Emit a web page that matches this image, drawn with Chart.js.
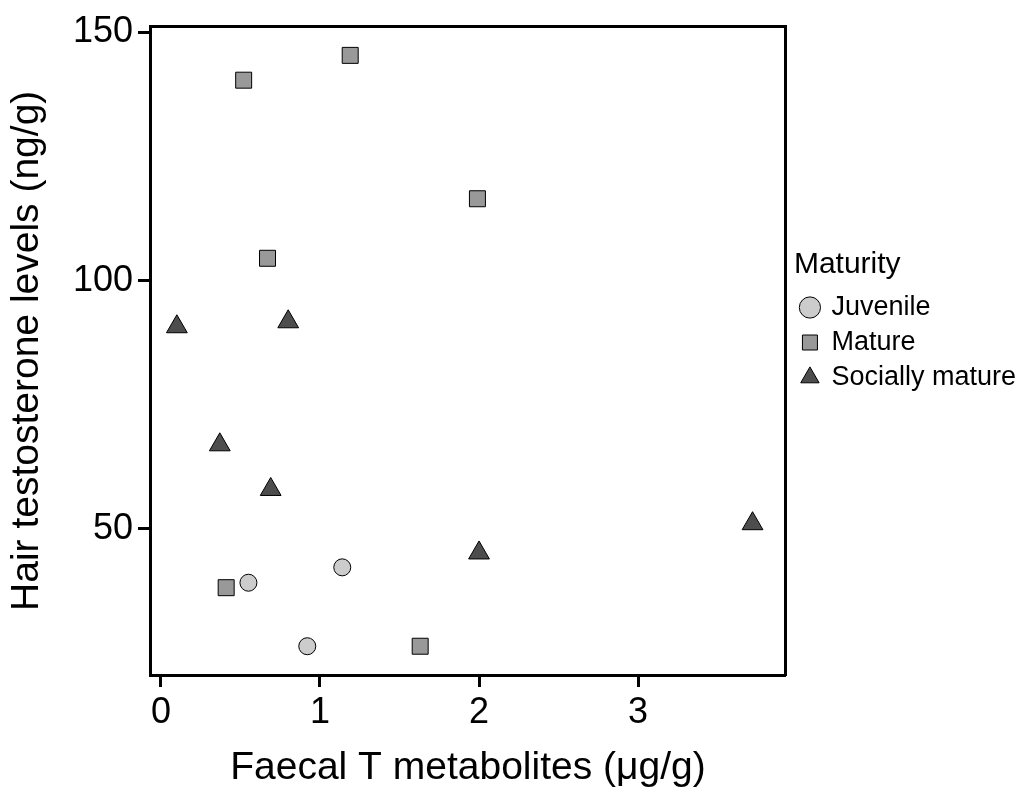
<!DOCTYPE html>
<html>
<head>
<meta charset="utf-8">
<script src="https://cdn.jsdelivr.net/npm/chart.js@4"></script>
<style>
  body { margin: 0; background: #fff; }
  #wrap { width: 1026px; height: 794px; }
</style>
</head>
<body>
<div id="wrap"><canvas id="chart" width="1026" height="794"></canvas></div>
<script>
// Faecal T metabolites vs hair testosterone, by maturity class
const juvenileX = [0.55, 1.14, 0.92];
const juvenileY = [39.1, 42.2, 26.3];
const matureX = [0.41, 0.52, 1.19, 1.99, 0.67, 1.63];
const matureY = [38.1, 140.4, 145.4, 116.5, 104.5, 26.3];
const socialX = [0.10, 0.80, 0.37, 0.69, 2.00, 3.72];
const socialY = [90.7, 91.7, 66.9, 57.9, 45.1, 51.0];
const xTicks = [0, 1, 2, 3];
const yTicks = [50, 100, 150];

Chart.defaults.font.family = 'Liberation Sans, Arial, Helvetica, sans-serif';
Chart.defaults.color = '#000';

function pts(xs, ys) {
    return xs.map((x, i) => ({ x: x, y: ys[i] }));
}

const tickGrid = { display: true, drawOnChartArea: false, drawTicks: true, tickLength: 12, tickWidth: 3, tickColor: '#000' };
const frame = { display: true, color: '#000', width: 3 };

const ctx = document.getElementById('chart').getContext('2d');
new Chart(ctx, {
    type: 'scatter',
    data: {
        datasets: [{
            label: 'Juvenile',
            data: pts(juvenileX, juvenileY),
            pointStyle: 'circle',
            pointRadius: 8.5,
            pointHoverRadius: 8.5,
            backgroundColor: '#cccccc',
            borderColor: '#000',
            borderWidth: 1
        }, {
            label: 'Mature',
            data: pts(matureX, matureY),
            pointStyle: 'rect',
            pointRadius: 11.3,
            pointHoverRadius: 11.3,
            backgroundColor: '#999999',
            borderColor: '#000',
            borderWidth: 1
        }, {
            label: 'Socially mature',
            data: pts(socialX, socialY),
            pointStyle: 'triangle',
            pointRadius: 12,
            pointHoverRadius: 12,
            backgroundColor: '#4d4d4d',
            borderColor: '#000',
            borderWidth: 1
        }]
    },
    options: {
        responsive: false,
        animation: false,
        layout: { padding: { top: 20, left: 0, right: 0, bottom: 0 } },
        scales: {
            x: {
                type: 'linear',
                position: 'bottom',
                min: -0.069,
                max: 3.93,
                afterBuildTicks: s => { s.ticks = xTicks.map(v => ({ value: v })); },
                afterFit: s => { s.height = 119; },
                ticks: { font: { size: 36 }, color: '#000', padding: 4 },
                grid: tickGrid,
                border: frame,
                title: { display: true, text: 'Faecal T metabolites (μg/g)', font: { size: 39 }, color: '#000', padding: { top: 0, bottom: 2 } }
            },
            y: {
                type: 'linear',
                position: 'left',
                min: 20.5,
                max: 151.2,
                afterBuildTicks: s => { s.ticks = yTicks.map(v => ({ value: v })); },
                afterFit: s => { s.width = 150; },
                ticks: { font: { size: 36 }, color: '#000', padding: 5 },
                grid: tickGrid,
                border: frame,
                title: { display: true, text: 'Hair testosterone levels (ng/g)', font: { size: 39 }, color: '#000', padding: { top: 4, bottom: 0 } }
            },
            // top and right sides of the box
            x2: {
                type: 'linear',
                position: 'top',
                ticks: { display: false },
                grid: { display: false },
                border: frame,
                afterFit: s => { s.height = 0; }
            },
            y2: {
                type: 'linear',
                position: 'right',
                ticks: { display: false },
                grid: { display: false },
                border: frame,
                afterFit: s => { s.width = 8; }
            }
        },
        plugins: {
            tooltip: { enabled: false },
            legend: {
                position: 'right',
                align: 'start',
                maxWidth: 260,
                labels: {
                    usePointStyle: true,
                    boxWidth: 16,
                    boxHeight: 15,
                    padding: 8,
                    font: { size: 27 },
                    color: '#000'
                },
                title: {
                    display: true,
                    text: 'Maturity',
                    position: 'start',
                    font: { size: 30 },
                    color: '#000',
                    padding: { top: 230, bottom: 0 }
                }
            }
        }
    }
});
</script>
</body>
</html>
